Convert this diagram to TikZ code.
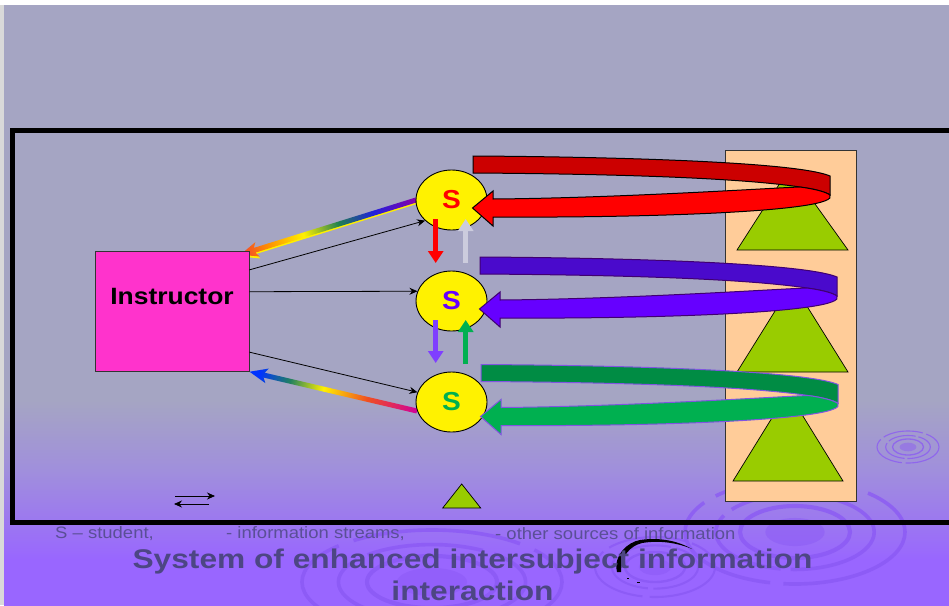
\documentclass[tikz,border=0pt]{standalone}
\usepackage{fontspec}
\setmainfont{Liberation Sans}
\usetikzlibrary{arrows.meta,calc,shapes.geometric}
\definecolor{bgtop}{HTML}{A5A5C3}
\definecolor{bgbot}{HTML}{9966FF}
\definecolor{bgmid}{HTML}{A08FDC}
\definecolor{ripple}{HTML}{8A58F4}
\definecolor{capt}{HTML}{5A4F96}
\definecolor{titlec}{HTML}{4D4684}
\definecolor{tan1}{HTML}{FFCC99}
\definecolor{leaf}{HTML}{99CC00}
\definecolor{pink1}{HTML}{FF33CC}
\definecolor{gr1}{HTML}{00B050}
\definecolor{gr0}{HTML}{008C44}
\definecolor{pu1}{HTML}{6600FF}
\definecolor{pu0}{HTML}{4A0ACC}
\definecolor{pu2}{HTML}{7F3FFF}
\definecolor{pul}{HTML}{400070}
\definecolor{rd0}{HTML}{CC0000}
\definecolor{gry}{HTML}{CCCCDD}
\definecolor{grl}{HTML}{8055E0}
\pgfdeclareverticalshading{bgshade}{100bp}{
  color(0bp)=(bgbot); color(28.75bp)=(bgbot); color(36.25bp)=(bgmid); color(42.08bp)=(bgtop); color(100bp)=(bgtop)}
\definecolor{ga}{HTML}{8800AA}\definecolor{gb}{HTML}{2020DD}\definecolor{gc}{HTML}{208050}
\definecolor{gd}{HTML}{FFF000}\definecolor{ge}{HTML}{FF9000}\definecolor{gf}{HTML}{F04030}
\definecolor{ha}{HTML}{D0009A}\definecolor{hb}{HTML}{F05020}\definecolor{hc}{HTML}{FFF000}
\definecolor{hd}{HTML}{208060}\definecolor{he}{HTML}{0033FF}
\pgfdeclarehorizontalshading{rainA}{100bp}{
  color(0bp)=(ga); color(25bp)=(ga); color(37bp)=(gb); color(47bp)=(gc); color(57bp)=(gd); color(67bp)=(ge); color(75bp)=(gf); color(100bp)=(gf)}
\pgfdeclarehorizontalshading{rainB}{100bp}{
  color(0bp)=(ha); color(25bp)=(ha); color(40bp)=(hb); color(53bp)=(hc); color(63bp)=(hd); color(72bp)=(he); color(75bp)=(he); color(100bp)=(he)}
\newcommand{\wide}[2]{\scalebox{#1}[1]{#2}}
\newcommand{\gradarrow}[4]{% start, angle, length, shading
  \begin{scope}[transform canvas={shift={(#1)},rotate=#2}]
    \shade[shading=#4] (0,-2.5) -- (#3-15,-2.5) -- (#3-18,-7.5) -- (#3,0) -- (#3-18,7.5) -- (#3-15,2.5) -- (0,2.5) -- cycle;
  \end{scope}}
\newcommand{\gradunder}[2]{% start, angle
  \begin{scope}[transform canvas={shift={(#1)},rotate=#2}]
    \fill[gd] (0,-4) -- (169,-4) -- (166,-9.5) -- (184,-2) -- (173,0) -- (0,0) -- cycle;
  \end{scope}}
\newcommand{\ribbon}[5]{% dx, dy, dark, bright, outline
  \begin{scope}[shift={(#1,#2)},draw=#5,line width=1pt,line join=miter]
    \filldraw[fill=#3] (473,156) .. controls (640,157) and (800,163) .. (830,176) -- (830,195)
      .. controls (826,192) and (815,189) .. (800,187) .. controls (740,178) and (620,174) .. (473,173) -- cycle;
    \filldraw[fill=#4] (830,195) .. controls (826,192) and (815,189) .. (800,187)
      .. controls (770,188) and (620,198) .. (493,199) -- (493,191) -- (472.5,208) -- (493,226) -- (493,217)
      .. controls (640,218) and (842,212) .. (830,195) -- cycle;
  \end{scope}}
\newcommand{\rings}[4]{% cx, cy, rx, ry
  \fill[ripple,opacity=.45] (#1,#2) ellipse ({#3*.27} and {#4*.27});
  \draw[ripple,opacity=.75,line width=#4*.08pt] (#1,#2) ellipse ({#3*.5} and {#4*.5});
  \draw[ripple,opacity=.75,line width=#4*.07pt,dash pattern=on #3*.9pt off #3*.09pt] (#1,#2) ellipse ({#3*.72} and {#4*.72});
  \draw[ripple,opacity=.75,line width=#4*.07pt,dash pattern=on #3*1.3pt off #3*.12pt] (#1,#2) ellipse ({#3} and {#4});}
\tikzset{
  pers/.style={draw=black,fill=yellow,ellipse,minimum width=71pt,minimum height=60pt,inner sep=0pt,line width=.9pt,font=\fontsize{26}{26}\bfseries},
  thin arrow/.style={draw=black,line width=.8pt,-{Stealth[length=8pt,width=7pt]}},
  vert arrow/.style={line width=5pt,-{Triangle[length=12pt,width=15pt]}},
  tri/.style={draw=black,fill=leaf,line width=.7pt,line join=miter},
  capnote/.style={anchor=west,inner sep=0pt,text=capt,font=\fontsize{16.5}{16.5}\selectfont},
  titlenote/.style={inner sep=0pt,text=titlec,font=\fontsize{27}{27}\bfseries}
}
\begin{document}
\begin{tikzpicture}[x=1pt,y=-1pt]
\useasboundingbox (0,0) rectangle (949,605);
\fill[white] (0,0) rectangle (949,605);
\fill[black!15] (0,5) rectangle (4,605);
\shade[shading=bgshade] (4,5) rectangle (949,605);
\begin{scope}
\clip (4,5) rectangle (949,605);
\rings{908}{447}{31}{16}
\rings{795}{532}{110}{52}
\rings{655}{567}{60}{30}
\rings{432}{582}{130}{52}
\end{scope}
% frame
\draw[black,line width=5pt] (960,130) -- (12,130) -- (12,522.5) -- (960,522.5);
% panel with triangles
\node[draw=black!80,fill=tan1,line width=.7pt,minimum width=131pt,minimum height=351pt,inner sep=0pt] (panel) at (790.5,325.5) {};
\draw[tri] (780,183) -- (800,183) -- (848,250) -- (737,250) -- cycle;
\draw[tri] (785,295) -- (800,295) -- (848,372) -- (737,372) -- cycle;
\draw[tri] (783,400) -- (793,400) -- (843,481) -- (733,481) -- cycle;
% rainbow arrows
\coordinate (ra) at (416,200);
\coordinate (rb) at (417,411);
\gradunder{ra}{197.3}
\gradarrow{ra}{197.3}{184}{rainA}
\gradarrow{rb}{166.8}{172}{rainB}
% instructor
\node[draw=black!80,fill=pink1,line width=.7pt,minimum width=154pt,minimum height=120pt,inner sep=0pt] (ins) at (172,311) {};
\node[inner sep=0pt,font=\fontsize{23.6}{24}\bfseries] (instext) at (172,296.5) {\wide{1.12}{Instructor}};
% students
\node[pers] (s1) at (451.5,200) {\wide{1.08}{\textcolor{red}{S}}};
\node[pers] (s2) at (451.5,301) {\wide{1.08}{\textcolor{pu1}{S}}};
\node[pers] (s3) at (451.5,402) {\wide{1.08}{\textcolor{gr1}{S}}};
% thin arrows
\draw[thin arrow] (ins.28) -- (s1.218);
\draw[thin arrow] (ins.14.6) -- (s2.164);
\draw[thin arrow] (ins.-28) -- (s3.164);
% vertical arrows
\coordinate (a1) at ($(s1.center)+(-15.8,19)$);
\coordinate (a2) at ($(s2.center)+(-15.8,-38)$);
\coordinate (b1) at ($(s2.center)+(14.2,-38)$);
\coordinate (b2) at ($(s1.center)+(14.2,19)$);
\coordinate (c1) at ($(s2.center)+(-15.8,19)$);
\coordinate (c2) at ($(s3.center)+(-15.8,-39)$);
\coordinate (d1) at ($(s3.center)+(14.2,-38)$);
\coordinate (d2) at ($(s2.center)+(14.2,19)$);
\draw[vert arrow,red] (a1) -- (a2);
\draw[vert arrow,gry] (b1) -- (b2);
\draw[vert arrow,pu2] (c1) -- (c2);
\draw[vert arrow,gr1] (d1) -- (d2);
% ribbons
\ribbon{0}{0}{rd0}{red}{black}
\ribbon{7}{101}{pu0}{pu1}{pul}
\ribbon{8}{208.5}{gr0}{gr1}{grl}
% legend
\coordinate (la) at (175,496); \coordinate (lb) at (215,496);
\coordinate (lc) at (209,504); \coordinate (ld) at (174,504);
\draw[thin arrow] (la) -- (lb);
\draw[thin arrow] (lc) -- (ld);
\draw[tri] (461.7,484) -- (480.7,508) -- (442.7,508) -- cycle;
\node[capnote] (n1) at (55,534) {\wide{1.12}{S – student,}};
\node[capnote] (n2) at (226,534) {\wide{1.12}{- information streams,}};
\node[capnote] (n3) at (495,534) {\wide{1.12}{- other sources of information}};
% dark crescent behind the title
\fill[black] (617,572) .. controls (613,555) and (628,542) .. (640,540) .. controls (660,537) and (678,541) .. (692,549)
  .. controls (678,543) and (660,540) .. (642,543) .. controls (630,546) and (621,556) .. (621,572) -- cycle;
\fill[black] (627,577.5) rectangle (629,578.5);
\fill[black] (637,581.5) rectangle (640,582.5);
\node[titlenote] (t1) at (472.5,562) {\wide{1.174}{System of enhanced intersubject information}};
\node[titlenote] (t2) at (472.5,591) {\wide{1.174}{interaction}};
\end{tikzpicture}
\end{document}
